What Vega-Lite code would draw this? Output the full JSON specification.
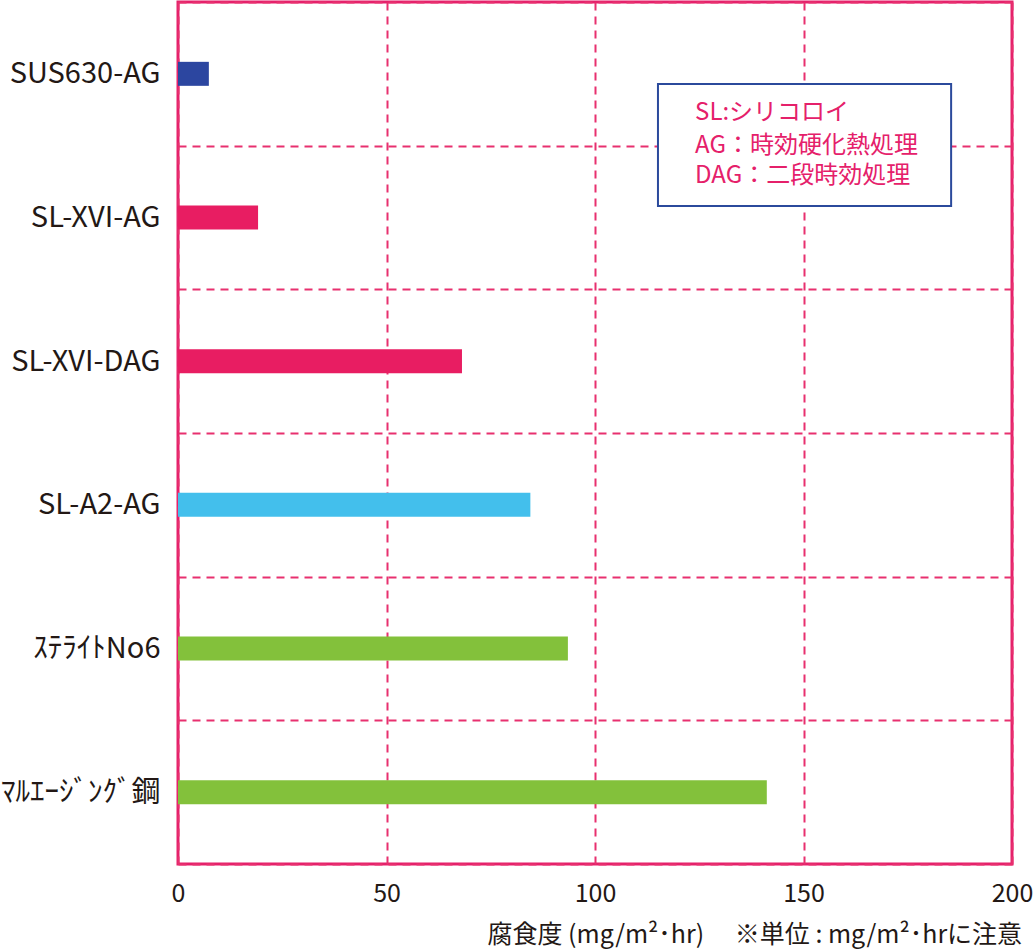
{
  "$schema": "https://vega.github.io/schema/vega-lite/v6.json",
  "width": 834,
  "height": 862,
  "autosize": {"type": "none"},
  "padding": {"left": 178, "top": 2, "right": 22, "bottom": 86},
  "background": "white",
  "config": {
    "font": "Noto Sans CJK JP",
    "view": {"stroke": "#e5206a", "strokeWidth": 3}
  },
  "layer": [
    {
      "data": {
        "values": [
          {"material": "SUS630-AG", "value": 7.4},
          {"material": "SL-XVI-AG", "value": 19.2},
          {"material": "SL-XVI-DAG", "value": 68.1},
          {"material": "SL-A2-AG", "value": 84.5},
          {"material": "ｽﾃﾗｲﾄNo6", "value": 93.5},
          {"material": "ﾏﾙｴｰｼﾞﾝｸﾞ鋼", "value": 141.2}
        ]
      },
      "mark": {"type": "bar", "size": 24},
      "encoding": {
        "y": {
          "field": "material",
          "type": "nominal",
          "sort": null,
          "scale": {"paddingInner": 0, "paddingOuter": 0},
          "axis": {
            "title": null,
            "domain": false,
            "ticks": false,
            "tickBand": "extent",
            "labelFontSize": 29,
            "labelPadding": 18,
            "labelColor": "#231815",
            "labelLimit": 300,
            "grid": true,
            "gridDash": [8, 6],
            "gridColor": "#e8306f",
            "gridWidth": 2
          }
        },
        "x": {
          "field": "value",
          "type": "quantitative",
          "scale": {"domain": [0, 200], "nice": false},
          "axis": {
            "title": "腐食度 (mg/m²･hr)　  ※単位 : mg/m²･hrに注意",
            "values": [0, 50, 100, 150, 200],
            "domain": false,
            "ticks": false,
            "labelFlush": false,
            "labelFontSize": 25,
            "labelPadding": 17,
            "labelColor": "#231815",
            "grid": true,
            "gridDash": [8, 6],
            "gridColor": "#e8306f",
            "gridWidth": 2,
            "titleFontSize": 25,
            "titleFontWeight": "normal",
            "titleColor": "#231815",
            "titleX": 309,
            "titleY": 70,
            "titleAlign": "left",
            "titleBaseline": "middle"
          }
        },
        "color": {
          "field": "material",
          "type": "nominal",
          "legend": null,
          "scale": {
            "domain": ["SUS630-AG", "SL-XVI-AG", "SL-XVI-DAG", "SL-A2-AG", "ｽﾃﾗｲﾄNo6", "ﾏﾙｴｰｼﾞﾝｸﾞ鋼"],
            "range": ["#2c46a0", "#e81d62", "#e81d62", "#43bfec", "#83c13b", "#83c13b"]
          }
        }
      }
    },
    {
      "data": {"values": [{"x1": 115.1, "x2": 185.4, "y1": 0.571, "y2": 1.42}]},
      "mark": {"type": "rect", "fill": "white", "stroke": "#2b4a9c", "strokeWidth": 2},
      "encoding": {
        "x": {"field": "x1", "type": "quantitative"},
        "x2": {"field": "x2"},
        "y": {"field": "y1", "type": "quantitative", "scale": {"domain": [0, 6], "reverse": true}, "axis": null},
        "y2": {"field": "y2"}
      }
    },
    {
      "data": {
        "values": [
          {"note": "SL:シリコロイ", "x": 124, "y": 0.77},
          {"note": "AG：時効硬化熱処理", "x": 124, "y": 1.0},
          {"note": "DAG：二段時効処理", "x": 124, "y": 1.21}
        ]
      },
      "mark": {"type": "text", "align": "left", "baseline": "middle", "fontSize": 24, "color": "#e5206a"},
      "encoding": {
        "x": {"field": "x", "type": "quantitative"},
        "y": {"field": "y", "type": "quantitative", "scale": {"domain": [0, 6], "reverse": true}, "axis": null},
        "text": {"field": "note"}
      }
    }
  ],
  "resolve": {"scale": {"y": "independent"}, "axis": {"y": "independent"}}
}
